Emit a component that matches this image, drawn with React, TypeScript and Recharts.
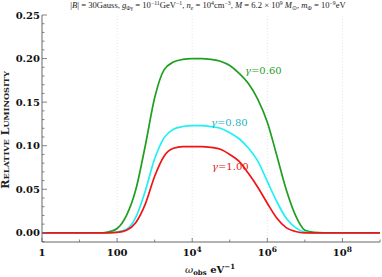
import React from "react";
import { LineChart, Line, XAxis, YAxis, ReferenceLine } from "recharts";

// log10(omega_obs / eV^-1)
const logOmega = [
  0, 0.25, 0.5, 0.75, 1, 1.25, 1.5, 1.75, 2, 2.25, 2.5, 2.75, 3, 3.25, 3.5, 3.75, 4, 4.25, 4.5,
  4.75, 5, 5.25, 5.5, 5.75, 6, 6.25, 6.5, 6.75, 7, 7.25, 7.5, 7.75, 8, 8.25, 8.5, 8.75, 9,
];
const gamma060 = [
  0, 0, 0, 0, 0, 0, 0, 0.001, 0.005, 0.02, 0.05, 0.1, 0.155, 0.187, 0.196, 0.199, 0.2, 0.2, 0.199,
  0.197, 0.192, 0.183, 0.171, 0.153, 0.127, 0.089, 0.05, 0.02, 0.003, 0.0005, 0, 0, 0, 0, 0, 0, 0,
];
const gamma080 = [
  0, 0, 0, 0, 0, 0, 0, 0, 0.001, 0.004, 0.018, 0.048, 0.085, 0.109, 0.119, 0.122, 0.123, 0.123,
  0.122, 0.12, 0.115, 0.108, 0.097, 0.082, 0.059, 0.036, 0.017, 0.006, 0.001, 0, 0, 0, 0, 0, 0, 0, 0,
];
const gamma100 = [
  0, 0, 0, 0, 0, 0, 0, 0, 0.0005, 0.003, 0.012, 0.033, 0.065, 0.088, 0.097, 0.099, 0.099, 0.099,
  0.098, 0.096, 0.09, 0.082, 0.068, 0.052, 0.034, 0.017, 0.006, 0.0015, 0, 0, 0, 0, 0, 0, 0, 0, 0,
];

const xMajorTicks = [0, 2, 4, 6, 8];
const xMinorTicks = [1, 3, 5, 7, 9];
const xTickBase = ["1", "100", "10", "10", "10"];
const xTickExp = ["", "", "4", "6", "8"];
const yMajorTicks = [0, 0.05, 0.1, 0.15, 0.2, 0.25];
const yMinorTicks = [
  -0.01, 0.01, 0.02, 0.03, 0.04, 0.06, 0.07, 0.08, 0.09, 0.11, 0.12, 0.13, 0.14, 0.16, 0.17, 0.18,
  0.19, 0.21, 0.22, 0.23, 0.24,
];

const data = logOmega.map((x, i) => ({
  x,
  g060: gamma060[i],
  g080: gamma080[i],
  g100: gamma100[i],
}));

const FRAME = "#666";
const FONT = "'DejaVu Serif', serif";

const isMajor = (list: number[], v: number) => list.some((t) => Math.abs(t - v) < 1e-9);

const XTick = (props: any) => {
  const { x, y, payload, side } = props;
  const major = isMajor(xMajorTicks, payload.value);
  const len = major ? 4 : 2.5;
  const dir = side === "top" ? 1 : -1;
  const idx = xMajorTicks.indexOf(payload.value);
  return (
    <g>
      <line x1={x} y1={y} x2={x} y2={y + dir * len} stroke={FRAME} strokeWidth={0.8} />
      {side === "bottom" && major && (
        <text x={x} y={y + 14} textAnchor="middle" fontFamily={FONT} fontWeight="bold" fontSize={10} fill="#111">
          <tspan>{xTickBase[idx]}</tspan>
          {xTickExp[idx] && (
            <tspan dy={-4} fontSize={7.5}>
              {xTickExp[idx]}
            </tspan>
          )}
        </text>
      )}
    </g>
  );
};

const YTick = (props: any) => {
  const { x, y, payload, side } = props;
  const major = isMajor(yMajorTicks, payload.value);
  const len = major ? 5 : 2.5;
  const dir = side === "left" ? 1 : -1;
  return (
    <g>
      <line x1={x} y1={y} x2={x + dir * len} y2={y} stroke={FRAME} strokeWidth={0.8} />
      {side === "left" && major && (
        <text x={x - 2} y={y + 3.6} textAnchor="end" fontFamily={FONT} fontWeight="bold" fontSize={10} fill="#111">
          {payload.value.toFixed(2)}
        </text>
      )}
    </g>
  );
};

const Title = () => (
  <text x={208} y={8} textAnchor="middle" fontFamily="'Liberation Serif', serif" fontSize={8.6} fill="#222">
    <tspan>|</tspan>
    <tspan fontStyle="italic">B</tspan>
    <tspan>| = 30Gauss, </tspan>
    <tspan fontStyle="italic">g</tspan>
    <tspan dy={2} fontSize={5.8}>Φγ</tspan>
    <tspan dy={-2}> = 10</tspan>
    <tspan dy={-3} fontSize={5.8}>−11</tspan>
    <tspan dy={3}>GeV</tspan>
    <tspan dy={-3} fontSize={5.8}>−1</tspan>
    <tspan dy={3}>, </tspan>
    <tspan fontStyle="italic">n</tspan>
    <tspan dy={2} fontSize={5.8} fontStyle="italic">e</tspan>
    <tspan dy={-2}> = 10</tspan>
    <tspan dy={-3} fontSize={5.8}>4</tspan>
    <tspan dy={3}>cm</tspan>
    <tspan dy={-3} fontSize={5.8}>−3</tspan>
    <tspan dy={3}>, </tspan>
    <tspan fontStyle="italic">M</tspan>
    <tspan> = 6.2 × 10</tspan>
    <tspan dy={-3} fontSize={5.8}>9</tspan>
    <tspan dy={3}> </tspan>
    <tspan fontStyle="italic">M</tspan>
    <tspan dy={2} fontSize={5.8}>⊙</tspan>
    <tspan dy={-2}>, </tspan>
    <tspan fontStyle="italic">m</tspan>
    <tspan dy={2} fontSize={5.8}>Φ</tspan>
    <tspan dy={-2}> = 10</tspan>
    <tspan dy={-3} fontSize={5.8}>−9</tspan>
    <tspan dy={3}>eV</tspan>
  </text>
);

const SmallCaps = ({ words }: { words: string[] }) => (
  <>
    {words.map((w, i) => (
      <React.Fragment key={i}>
        <tspan fontSize={11}>{(i > 0 ? " " : "") + w[0]}</tspan>
        <tspan fontSize={8.2}>{w.slice(1).toUpperCase()}</tspan>
      </React.Fragment>
    ))}
  </>
);

export default function App() {
  return (
    <div style={{ position: "absolute", left: 0, top: 0, width: 382, height: 277 }}>
      <LineChart width={382} height={277} data={data} margin={{ top: 15, right: 2, left: 0, bottom: 0 }}>
        <XAxis
          xAxisId="bottom"
          dataKey="x"
          type="number"
          domain={[0, 9]}
          ticks={[...xMajorTicks, ...xMinorTicks]}
          interval={0}
          height={35}
          tickSize={0}
          tickMargin={0}
          tickLine={false}
          axisLine={{ stroke: FRAME }}
          tick={<XTick side="bottom" />}
        />
        <XAxis
          xAxisId="top"
          orientation="top"
          dataKey="x"
          type="number"
          domain={[0, 9]}
          ticks={[...xMajorTicks, ...xMinorTicks]}
          interval={0}
          height={0}
          tickSize={0}
          tickMargin={0}
          tickLine={false}
          axisLine={{ stroke: FRAME }}
          tick={<XTick side="top" />}
        />
        <YAxis
          yAxisId="left"
          type="number"
          domain={[-0.0105, 0.25]}
          ticks={[...yMajorTicks, ...yMinorTicks]}
          interval={0}
          width={42}
          tickSize={0}
          tickMargin={0}
          tickLine={false}
          axisLine={{ stroke: FRAME }}
          tick={<YTick side="left" />}
        />
        <YAxis
          yAxisId="right"
          orientation="right"
          type="number"
          domain={[-0.0105, 0.25]}
          ticks={[...yMajorTicks, ...yMinorTicks]}
          interval={0}
          width={0}
          tickSize={0}
          tickMargin={0}
          tickLine={false}
          axisLine={{ stroke: FRAME }}
          tick={<YTick side="right" />}
        />
        {xMajorTicks.slice(1).map((t) => (
          <ReferenceLine
            key={t}
            x={t}
            xAxisId="bottom"
            yAxisId="left"
            stroke="#d8d8d8"
            strokeWidth={0.7}
            strokeDasharray="1 2"
          />
        ))}
        <Line
          xAxisId="bottom"
          yAxisId="left"
          type="monotone"
          dataKey="g060"
          stroke="#1f9f1f"
          strokeWidth={1.7}
          dot={false}
          isAnimationActive={false}
        />
        <Line
          xAxisId="bottom"
          yAxisId="left"
          type="monotone"
          dataKey="g080"
          stroke="#1ef0f5"
          strokeWidth={1.7}
          dot={false}
          isAnimationActive={false}
        />
        <Line
          xAxisId="bottom"
          yAxisId="left"
          type="monotone"
          dataKey="g100"
          stroke="#f01414"
          strokeWidth={1.7}
          dot={false}
          isAnimationActive={false}
        />
      </LineChart>
      <svg
        width={382}
        height={277}
        style={{ position: "absolute", left: 0, top: 0, pointerEvents: "none" }}
      >
        <Title />
        <text
          transform="translate(9,130) rotate(-90)"
          textAnchor="middle"
          fontFamily={FONT}
          fontWeight="bold"
          fill="#222"
        >
          <SmallCaps words={["Relative", "Luminosity"]} />
        </text>
        <text x={210} y={273} textAnchor="middle" fontFamily={FONT} fill="#111" fontSize={10}>
          <tspan fontStyle="italic">ω</tspan>
          <tspan dy={2} fontSize={7} fontWeight="bold">obs</tspan>
          <tspan dy={-2} fontWeight="bold"> eV</tspan>
          <tspan dy={-4} fontSize={7} fontWeight="bold">−1</tspan>
        </text>
        <text x={245} y={74} fontFamily={FONT} fontSize={10} fill="#2a9d2a">
          <tspan fontStyle="italic">γ</tspan>=0.60
        </text>
        <text x={211} y={126} fontFamily={FONT} fontSize={10} fill="#22b2c2">
          <tspan fontStyle="italic">γ</tspan>=0.80
        </text>
        <text x={212} y={170} fontFamily={FONT} fontSize={10} fill="#e02020">
          <tspan fontStyle="italic">γ</tspan>=1.00
        </text>
      </svg>
    </div>
  );
}
